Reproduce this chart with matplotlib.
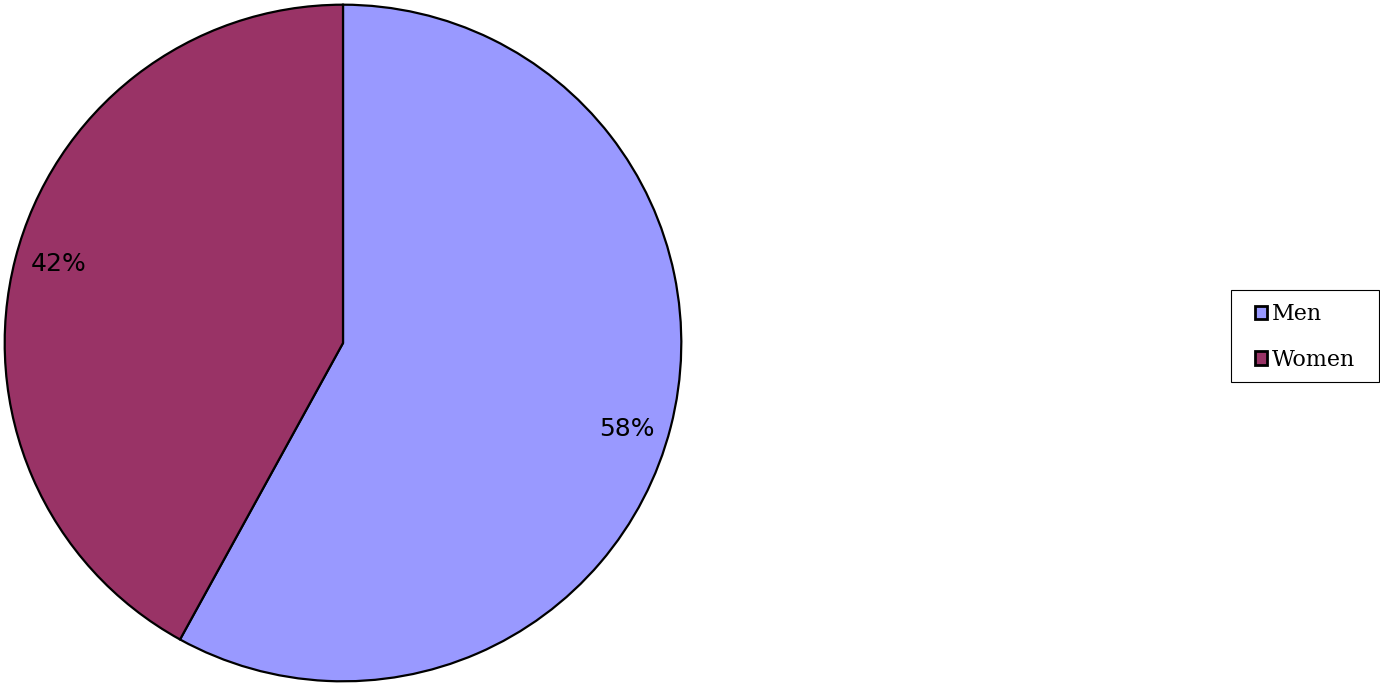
import matplotlib
matplotlib.use('Agg')
import matplotlib.pyplot as plt
from matplotlib.patches import Rectangle
import numpy as np

# Data
labels = ['Men', 'Women']
values = [58, 42]
colors = ['#9999FF', '#993366']

W, H = 1380, 685
fig = plt.figure(figsize=(W / 100, H / 100), dpi=100)
ax = fig.add_axes([3 / W, 2 / H, 680 / W, 680 / H])

wedges, texts = ax.pie(
    values, colors=colors, startangle=90, counterclock=False,
    wedgeprops=dict(edgecolor='black', linewidth=1.6))
ax.set_xlim(-1.005, 1.005)
ax.set_ylim(-1.005, 1.005)
ax.set_aspect('equal')

# percentage labels, a little clockwise of the slice middle
total = sum(values)
for w, v in zip(wedges, values):
    ang = np.deg2rad((w.theta1 + w.theta2) / 2 - 1.8)
    ax.text(0.875 * np.cos(ang), 0.875 * np.sin(ang) - 0.01, '%d%%' % round(100 * v / total),
            ha='center', va='center', fontsize=18, family='DejaVu Sans')

#legend on the right, frame drawn separately
leg = fig.legend(wedges, labels, loc='center', bbox_to_anchor=(1305 / W, 1 - 337 / H),
                 prop=dict(family='DejaVu Serif', size=16), frameon=False,
                 handlelength=0.55, handleheight=0.55,
                 handletextpad=0.2, labelspacing=1.05, borderpad=0.75, borderaxespad=0)
for p in leg.get_patches():
    p.set_linewidth(2)
fig.patches.append(Rectangle((1230.5 / W, 1 - 382 / H), 148 / W, 92 / H,
                             transform=fig.transFigure, fill=False,
                             edgecolor='black', linewidth=0.8))

fig.savefig('out.png', dpi=100)
